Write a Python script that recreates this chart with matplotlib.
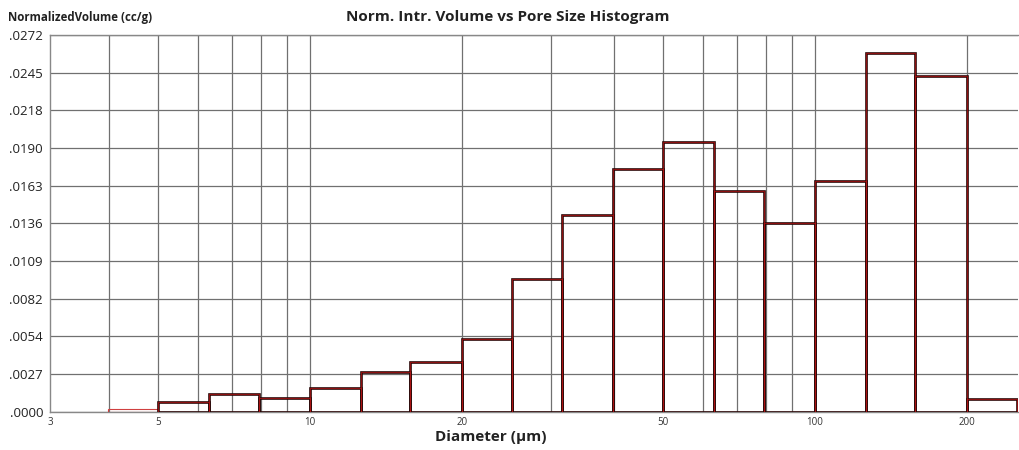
import matplotlib
matplotlib.use("Agg")
import matplotlib.pyplot as plt
import numpy as np

plt.rcParams['font.family'] = ['Open Sans', 'DejaVu Sans']

# Bin edges (diameter, µm) and normalized intrusion volume per bin (cc/g)
bin_edges = [3.98, 5.01, 6.31, 7.94, 10.0, 12.6, 15.8, 20.0, 25.1, 31.6,
             39.8, 50.1, 63.1, 79.4, 100.0, 126.0, 158.0, 200.0, 251.0]
volumes = [0.0002, 0.00072, 0.00128, 0.00097, 0.00169, 0.00284, 0.00361,
           0.00525, 0.00958, 0.01420, 0.01752, 0.01945, 0.01596, 0.01360,
           0.01666, 0.02592, 0.02426, 0.00090]

x_min, x_max = 3.055, 252.4
x_ticks = [x_min, 5, 10, 20, 50, 100, 200]
x_tick_labels = ["3", "5", "10", "20", "50", "100", "200"]
x_grid = [4, 5, 6, 7, 8, 9, 10, 20, 30, 40, 50, 60, 70, 80, 90, 100, 200]
y_ticks = [0.0, 0.00272, 0.00544, 0.00816, 0.01088, 0.0136, 0.01632,
           0.01904, 0.02176, 0.02448, 0.0272]
y_tick_labels = [".0000", ".0027", ".0054", ".0082", ".0109", ".0136",
                 ".0163", ".0190", ".0218", ".0245", ".0272"]

fig = plt.figure(figsize=(10.19, 4.5), dpi=100)
ax = fig.add_axes([50/1019, 1 - 411.7/450, 968/1019, (411.7 - 35)/450])
ax.set_xscale('log')
ax.set_xlim(x_min, x_max)
ax.set_ylim(0, 0.0272)

# grid
for gx in x_grid:
    ax.axvline(gx, color='#707070', lw=0.9, zorder=1)
for gy in y_ticks:
    ax.axhline(gy, color='#707070', lw=0.9, zorder=1)

left = np.array(bin_edges[:-1])
right = np.array(bin_edges[1:])
widths = right - left
# first (almost empty) bin only shows as a faint red line
ax.bar(left[:1], volumes[:1], width=widths[:1], align='edge', facecolor='none',
       edgecolor='#d04040', linewidth=0.8, zorder=3)
ax.bar(left[1:], volumes[1:], width=widths[1:], align='edge', facecolor='none',
       edgecolor='#2a0606', linewidth=1.9, zorder=3)
ax.bar(left[1:], volumes[1:], width=widths[1:], align='edge', facecolor='none',
       edgecolor='#b81414', linewidth=0.5, zorder=4)

ax.set_xticks(x_ticks)
ax.set_xticklabels(x_tick_labels, fontsize=7, color='#333333')
ax.xaxis.set_minor_locator(matplotlib.ticker.NullLocator())
ax.set_yticks(y_ticks)
ax.set_yticklabels(y_tick_labels, fontsize=9.5, color='#222222')
ax.tick_params(axis='both', length=0)
ax.tick_params(axis='x', pad=4)
ax.tick_params(axis='y', pad=5)

for s in ['top', 'left', 'bottom']:
    ax.spines[s].set_color('#888888')
    ax.spines[s].set_linewidth(1.0)
ax.spines['right'].set_visible(False)

fig.text(8/1019, 1 - 17/450, "NormalizedVolume (cc/g)", fontsize=8.3,
         fontweight='bold', ha='left', va='center', color='#222222')
fig.text(508/1019, 1 - 17/450, "Norm. Intr. Volume vs Pore Size Histogram",
         fontsize=11, fontweight='bold', ha='center', va='center', color='#222222')
fig.text(491/1019, 1 - 437/450, "Diameter (µm)", fontsize=11,
         fontweight='bold', ha='center', va='center', color='#222222')

fig.savefig("out.png", dpi=100)
